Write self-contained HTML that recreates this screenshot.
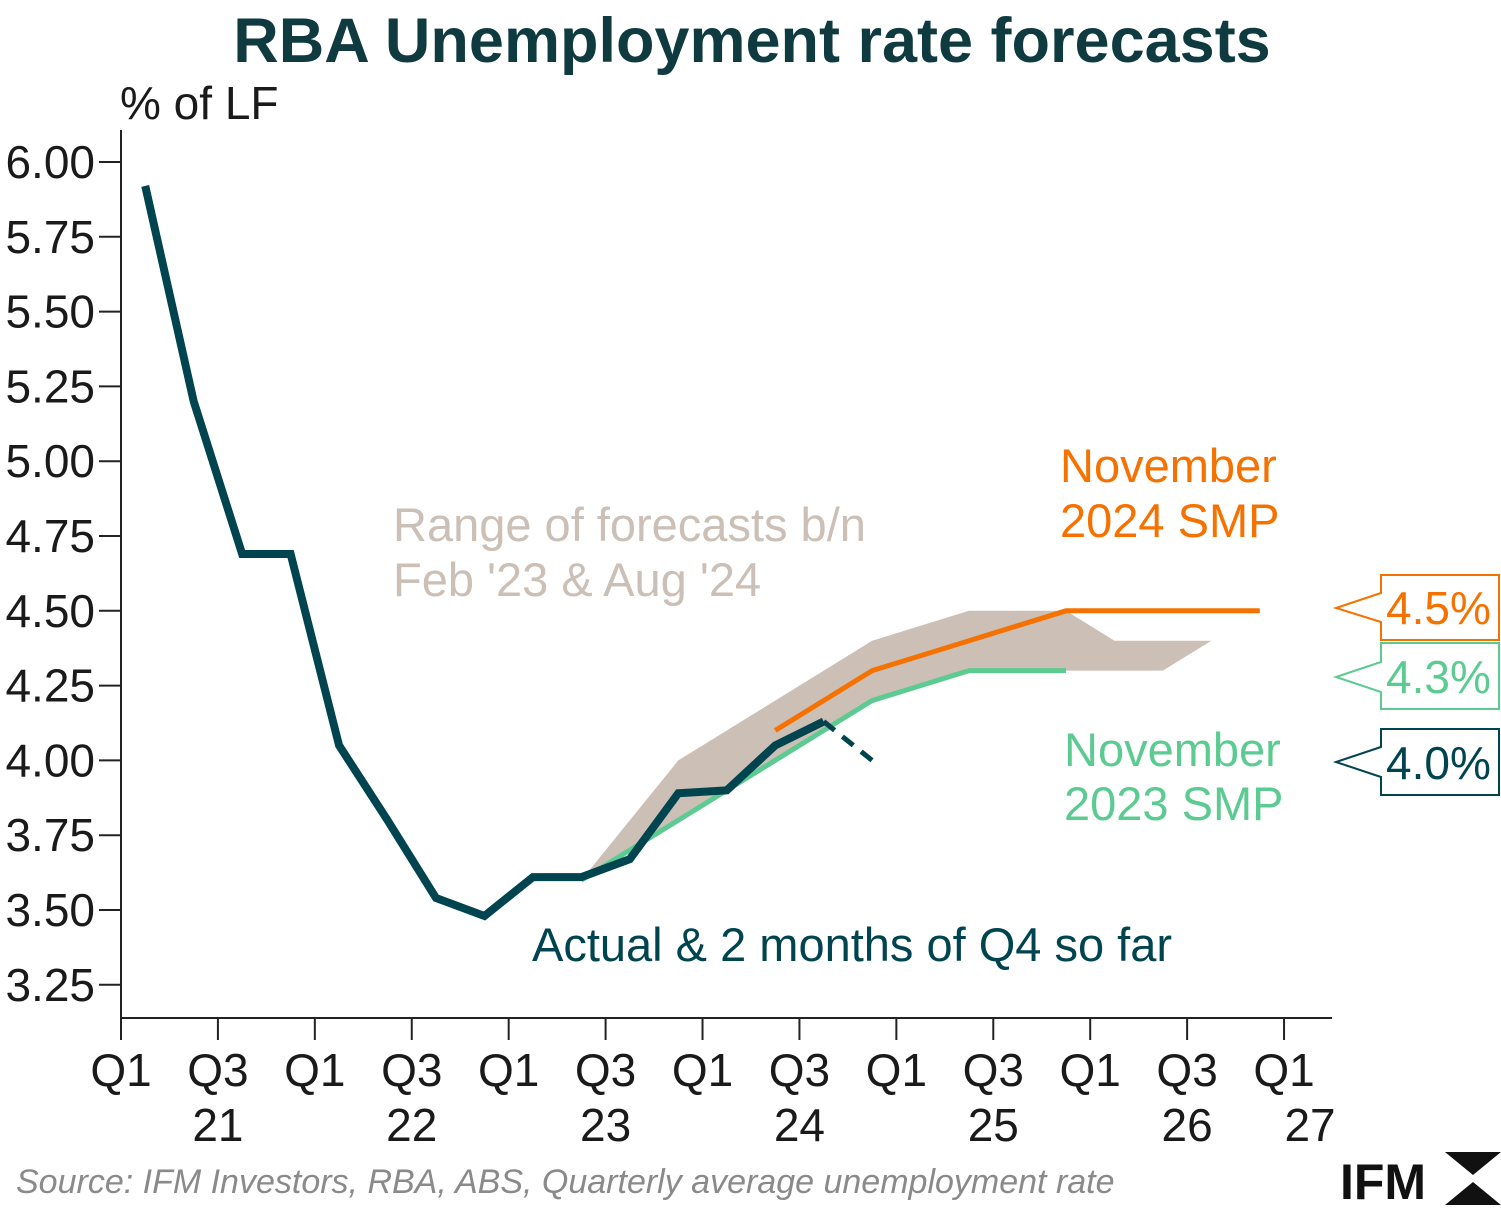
<!DOCTYPE html>
<html><head><meta charset="utf-8"><style>
body{margin:0;background:#fff;}
svg{display:block;font-family:"Liberation Sans",sans-serif;}
</style></head><body>
<svg width="1501" height="1213" viewBox="0 0 1501 1213" id="chart">
<text x="752" y="62" text-anchor="middle" font-size="63" font-weight="bold" fill="#0e3a40">RBA Unemployment rate forecasts</text>
<text x="120" y="119" font-size="46" fill="#1a1a1a">% of LF</text>
<g id="axes"></g>
<g id="marks"></g>
<text x="393" y="541" font-size="47" fill="#cbbfb6">Range of forecasts b/n</text>
<text x="393" y="596" font-size="47" fill="#cbbfb6">Feb '23 &amp; Aug '24</text>
<text x="1060" y="482" font-size="47" fill="#f57200">November</text>
<text x="1060" y="537" font-size="47" fill="#f57200">2024 SMP</text>
<text x="1064" y="766" font-size="47" fill="#5ccb91">November</text>
<text x="1064" y="820" font-size="47" fill="#5ccb91">2023 SMP</text>
<text x="532" y="961" font-size="47" fill="#004450">Actual &amp; 2 months of Q4 so far</text>
<g><path d="M1381 575 H1499 V640 H1381 V622 L1336 608 L1381 593 Z" fill="#fff" stroke="#f57200" stroke-width="2"/><text x="1386" y="624" font-size="46" fill="#f57200">4.5%</text></g>
<g><path d="M1381 643 H1499 V709 H1381 V692 L1336 677 L1381 662 Z" fill="#fff" stroke="#5ccb91" stroke-width="2"/><text x="1386" y="693" font-size="46" fill="#5ccb91">4.3%</text></g>
<g><path d="M1381 729 H1499 V795 H1381 V777 L1336 762 L1381 747 Z" fill="#fff" stroke="#004450" stroke-width="2"/><text x="1386" y="779" font-size="46" fill="#004450">4.0%</text></g>
<text x="16" y="1193" font-size="34" font-style="italic" fill="#8a8a8a">Source: IFM Investors, RBA, ABS, Quarterly average unemployment rate</text>
<g><text x="1340" y="1199" font-size="50" font-weight="bold" fill="#111">IFM</text>
<path d="M1445 1152 H1501 L1473 1175 Z M1445 1205 H1501 L1473 1182 Z" fill="#111"/></g>
</svg>
<script>
const yTicks=[6.00,5.75,5.50,5.25,5.00,4.75,4.50,4.25,4.00,3.75,3.50,3.25];
const xTickQ=["Q1","Q3","Q1","Q3","Q1","Q3","Q1","Q3","Q1","Q3","Q1","Q3","Q1"];
const xTickY=["","21","","22","","23","","24","","25","","26","27"];
const actual=[5.92,5.2,4.69,4.69,4.05,3.8,3.54,3.48,3.61,3.61,3.67,3.89,3.9,4.05,4.13];
const actualPartial=[4.13,4.0];
const nov24Idx=[13,15,17,19,23];
const nov24=[4.1,4.3,4.4,4.5,4.5];
const nov23Idx=[9,15,17,19];
const nov23=[3.6,4.2,4.3,4.3];
const rangeUpIdx=[9,11,15,17,19,20,22];
const rangeUp=[3.6,4.0,4.4,4.5,4.5,4.4,4.4];
const rangeLoIdx=[21,19,17,15,9];
const rangeLo=[4.3,4.3,4.3,4.2,3.6];

const NS="http://www.w3.org/2000/svg";
const y=v=>162+(6-v)/0.25*74.8;
const xq=i=>121+(i+0.5)*48.46;
const axes=document.getElementById('axes'),marks=document.getElementById('marks');
function mk(tag,attrs,parent){const e=document.createElementNS(NS,tag);for(const k in attrs)e.setAttribute(k,attrs[k]);parent.appendChild(e);return e;}
let a=mk('line',{x1:121,y1:130,x2:121,y2:1020,stroke:'#222','stroke-width':2},axes);


a=mk('line',{x1:121,y1:1018,x2:1332,y2:1018,stroke:'#222','stroke-width':2},axes);


yTicks.forEach(v=>{mk('line',{x1:99,x2:121,y1:y(v),y2:y(v),stroke:'#222','stroke-width':2},axes);
const t=mk('text',{x:95,y:y(v)+16,'text-anchor':'end','font-size':46,fill:'#1a1a1a'},axes);t.textContent=v.toFixed(2);

});
xTickQ.forEach((q,i)=>{const x=121+i*2*48.46;mk('line',{x1:x,x2:x,y1:1018,y2:1040,stroke:'#222','stroke-width':2},axes);
let t=mk('text',{x:x,y:1086,'text-anchor':'middle','font-size':46,fill:'#1a1a1a'},axes);t.textContent=q;


if(xTickY[i]){t=mk('text',{x:i==12?x+26:x,y:1141,'text-anchor':'middle','font-size':46,fill:'#1a1a1a'},axes);t.textContent=xTickY[i];

}});
const pts=(idx,vals)=>vals.map((v,k)=>xq(idx[k])+','+y(v)).join(' ');
let p=mk('polygon',{points:pts(rangeUpIdx,rangeUp)+' '+pts(rangeLoIdx,rangeLo),fill:'#cbbfb6'},marks);


p=mk('polyline',{points:pts(nov23Idx,nov23),fill:'none',stroke:'#5ccb91','stroke-width':5},marks);


p=mk('polyline',{points:pts(nov24Idx,nov24),fill:'none',stroke:'#f57200','stroke-width':5},marks);


p=mk('polyline',{points:pts(actual.map((_,i)=>i),actual),fill:'none',stroke:'#004450','stroke-width':8,'stroke-linejoin':'miter'},marks);


p=mk('polyline',{points:pts([14,15],actualPartial),fill:'none',stroke:'#004450','stroke-width':5,'stroke-dasharray':'14 10'},marks);


</script>
</body></html>
